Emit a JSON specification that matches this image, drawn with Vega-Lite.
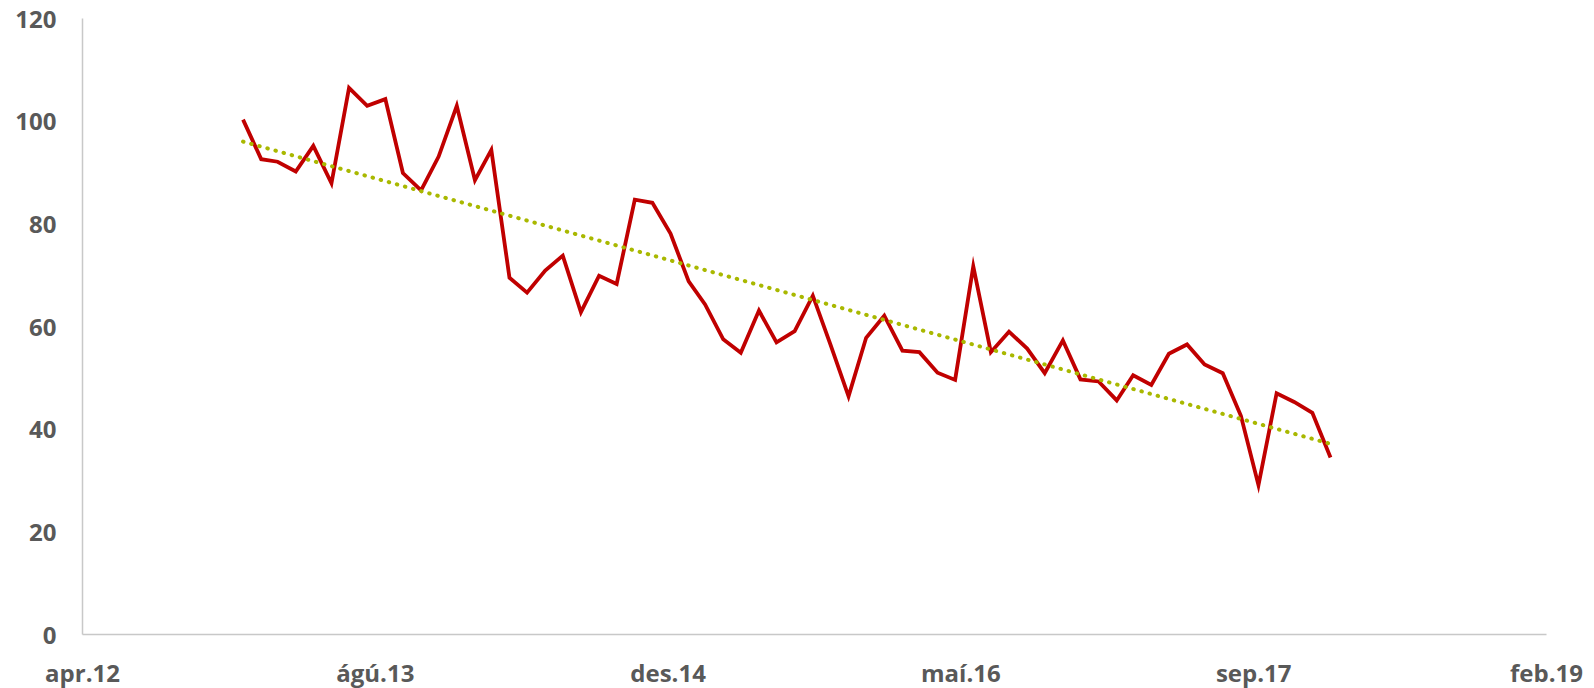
{
  "$schema": "https://vega.github.io/schema/vega-lite/v6.json",
  "width": 1464,
  "height": 616,
  "autosize": {"type": "none"},
  "padding": {"left": 82, "top": 18, "right": 48, "bottom": 54},
  "background": "white",
  "config": {
    "view": {"stroke": null},
    "font": "Open Sans",
    "axis": {
      "labelFont": "Open Sans",
      "labelFontWeight": "bold",
      "labelFontSize": 24,
      "labelColor": "#595959",
      "domainColor": "#C8C8C8",
      "domainWidth": 1.5,
      "ticks": false,
      "grid": false,
      "title": null
    }
  },
  "data": {
    "values": [
      {"date": "2013-01-01", "value": 100.2},
      {"date": "2013-02-01", "value": 92.5},
      {"date": "2013-03-01", "value": 92.0},
      {"date": "2013-04-01", "value": 90.1},
      {"date": "2013-05-01", "value": 95.1},
      {"date": "2013-06-01", "value": 87.8},
      {"date": "2013-07-01", "value": 106.4},
      {"date": "2013-08-01", "value": 102.9},
      {"date": "2013-09-01", "value": 104.2},
      {"date": "2013-10-01", "value": 89.8},
      {"date": "2013-11-01", "value": 86.4},
      {"date": "2013-12-01", "value": 93.0},
      {"date": "2014-01-01", "value": 102.9},
      {"date": "2014-02-01", "value": 88.4},
      {"date": "2014-03-01", "value": 94.3},
      {"date": "2014-04-01", "value": 69.4},
      {"date": "2014-05-01", "value": 66.5},
      {"date": "2014-06-01", "value": 70.8},
      {"date": "2014-07-01", "value": 73.7},
      {"date": "2014-08-01", "value": 62.7},
      {"date": "2014-09-01", "value": 69.8},
      {"date": "2014-10-01", "value": 68.2},
      {"date": "2014-11-01", "value": 84.6},
      {"date": "2014-12-01", "value": 84.0},
      {"date": "2015-01-01", "value": 78.0},
      {"date": "2015-02-01", "value": 68.7},
      {"date": "2015-03-01", "value": 64.2},
      {"date": "2015-04-01", "value": 57.4},
      {"date": "2015-05-01", "value": 54.8},
      {"date": "2015-06-01", "value": 63.0},
      {"date": "2015-07-01", "value": 56.8},
      {"date": "2015-08-01", "value": 59.0},
      {"date": "2015-09-01", "value": 65.9},
      {"date": "2015-10-01", "value": 56.4},
      {"date": "2015-11-01", "value": 46.3},
      {"date": "2015-12-01", "value": 57.7},
      {"date": "2016-01-01", "value": 62.0},
      {"date": "2016-02-01", "value": 55.2},
      {"date": "2016-03-01", "value": 54.9},
      {"date": "2016-04-01", "value": 50.9},
      {"date": "2016-05-01", "value": 49.5},
      {"date": "2016-06-01", "value": 71.6},
      {"date": "2016-07-01", "value": 54.9},
      {"date": "2016-08-01", "value": 58.9},
      {"date": "2016-09-01", "value": 55.6},
      {"date": "2016-10-01", "value": 50.8},
      {"date": "2016-11-01", "value": 57.2},
      {"date": "2016-12-01", "value": 49.6},
      {"date": "2017-01-01", "value": 49.2},
      {"date": "2017-02-01", "value": 45.5},
      {"date": "2017-03-01", "value": 50.4},
      {"date": "2017-04-01", "value": 48.5},
      {"date": "2017-05-01", "value": 54.6},
      {"date": "2017-06-01", "value": 56.4},
      {"date": "2017-07-01", "value": 52.5},
      {"date": "2017-08-01", "value": 50.8},
      {"date": "2017-09-01", "value": 42.5},
      {"date": "2017-10-01", "value": 29.0},
      {"date": "2017-11-01", "value": 46.9},
      {"date": "2017-12-01", "value": 45.2},
      {"date": "2018-01-01", "value": 43.1},
      {"date": "2018-02-01", "value": 34.4}
    ]
  },
  "encoding": {
    "x": {
      "field": "date",
      "type": "temporal",
      "scale": {
        "type": "utc",
        "domain": [
          {"year": 2012, "month": 4, "date": 1, "utc": true},
          {"year": 2019, "month": 2, "date": 4, "utc": true}
        ]
      },
      "axis": {
        "values": [
          {"year": 2012, "month": 4, "date": 1, "utc": true},
          {"year": 2013, "month": 8, "date": 14, "utc": true},
          {"year": 2014, "month": 12, "date": 27, "utc": true},
          {"year": 2016, "month": 5, "date": 10, "utc": true},
          {"year": 2017, "month": 9, "date": 22, "utc": true},
          {"year": 2019, "month": 2, "date": 4, "utc": true}
        ],
        "labelExpr": "['jan','feb','mar','apr','maí','jún','júl','ágú','sep','okt','nóv','des'][utcmonth(datum.value)] + '.' + utcFormat(datum.value, '%y')",
        "labelPadding": 28,
        "labelBaseline": "top",
        "labelFlush": false,
        "labelOverlap": false
      }
    },
    "y": {
      "field": "value",
      "type": "quantitative",
      "scale": {"domain": [0, 120], "nice": false, "zero": true},
      "axis": {
        "values": [0, 20, 40, 60, 80, 100, 120],
        "labelPadding": 26,
        "labelOffset": 2,
        "labelFlush": false,
        "labelOverlap": false
      }
    }
  },
  "layer": [
    {
      "mark": {"type": "line", "color": "#C00000", "strokeWidth": 3.8, "strokeJoin": "miter", "strokeMiterLimit": 10}
    },
    {
      "transform": [{"regression": "value", "on": "date"}],
      "mark": {"type": "line", "color": "#A9B800", "strokeWidth": 4, "strokeCap": "round", "strokeDash": [0.5, 7.9]}
    }
  ]
}
